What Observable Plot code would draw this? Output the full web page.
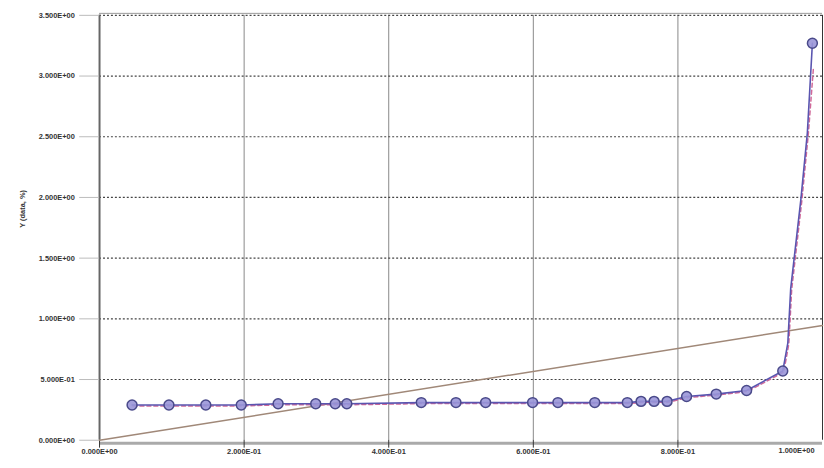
<!DOCTYPE html>
<html>
<head>
<meta charset="utf-8">
<script src="https://cdn.jsdelivr.net/npm/d3@7"></script>
<script src="https://cdn.jsdelivr.net/npm/@observablehq/plot@0.6"></script>
<style>
  html, body { margin: 0; padding: 0; background: #fff; overflow: hidden; width: 824px; height: 468px; }
  #chart svg { display: block; }
</style>
</head>
<body>
<div id="chart"></div>
<script>
// ---- data ----
const xValues = [0.045, 0.096, 0.147, 0.196, 0.247, 0.299, 0.326, 0.342, 0.445, 0.493, 0.534, 0.599, 0.634, 0.685, 0.730, 0.749, 0.767, 0.785, 0.812, 0.853, 0.895, 0.945, 0.952, 0.956, 0.970, 0.979, 0.986];
const blueValues = [0.29, 0.29, 0.29, 0.29, 0.30, 0.30, 0.30, 0.30, 0.31, 0.31, 0.31, 0.31, 0.31, 0.31, 0.31, 0.32, 0.32, 0.32, 0.36, 0.38, 0.41, 0.57, 0.80, 1.25, 1.98, 2.53, 3.27];
const redValues  = [0.29, 0.29, 0.29, 0.29, 0.30, 0.30, 0.30, 0.30, 0.31, 0.31, 0.31, 0.31, 0.31, 0.31, 0.31, 0.32, 0.32, 0.32, 0.36, 0.38, 0.41, 0.57, 0.80, 1.25, 1.98, 2.53, 3.07];
const marked = [true, true, true, true, true, true, true, true, true, true, true, true, true, true, true, true, true, true, true, true, true, true, false, false, false, false, true];
const refX = [0, 1.0];
const refY = [0, 0.945];
const xTicks = [0, 0.2, 0.4, 0.6, 0.8];
const xLastTick = [1.0];
const yTicks = [0, 0.5, 1.0, 1.5, 2.0, 2.5, 3.0, 3.5];
const yTitle = "Y (data, %)";

const blue = xValues.map((x, i) => ({x, y: blueValues[i], m: marked[i]}));
const red = xValues.map((x, i) => ({x, y: redValues[i]}));
const ref = refX.map((x, i) => ({x, y: refY[i]}));

const fmtE = d => {
  const s = d.toExponential(3).toUpperCase();
  return s.replace(/E([+-])(\d)$/, "E$10$2");
};

const chart = Plot.plot({
  width: 832,
  height: 468,
  marginLeft: 100,
  marginRight: 2,
  marginTop: 15,
  marginBottom: 24,
  style: {fontFamily: "Liberation Sans, Arial, sans-serif", fontSize: "7.5px", color: "#333", background: "#fff"},
  x: {domain: [0, 1.0]},
  y: {domain: [0, 3.5]},
  marks: [
    Plot.gridX(xTicks.slice(1), {stroke: "#888", strokeOpacity: 1, strokeWidth: 1}),
    Plot.gridY(yTicks.slice(1), {stroke: "#444", strokeOpacity: 1, strokeWidth: 1.2, strokeDasharray: "2,2"}),
    Plot.ruleY([3.5], {stroke: "#999", strokeWidth: 1, dy: -2}),
    Plot.ruleX([0], {stroke: "#666", strokeWidth: 2}),
    Plot.ruleY([0], {stroke: "#aaa", strokeWidth: 3, dy: 3}),
    Plot.axisX(xTicks, {tickSize: 8, tickPadding: 1, tickFormat: fmtE, fontWeight: "bold", fill: "#333", label: null}),
    Plot.tickX(xLastTick, {x: d => d, frameAnchor: "bottom", stroke: "#333", dy: 0}),
    Plot.text(xLastTick, {x: d => d, text: d => fmtE(d), frameAnchor: "bottom", dy: 13, dx: -8, textAnchor: "end", fontWeight: "bold", fill: "#333"}),
    Plot.axisY(yTicks, {tickSize: 20, tickPadding: 5, tickFormat: fmtE, fontWeight: "bold", fill: "#333", stroke: "#bbb", label: null}),
    Plot.text([yTitle], {frameAnchor: "left", dx: -78, rotate: -90, fontSize: 7.5, fontWeight: "bold", fill: "#333"}),
    Plot.line(ref, {x: "x", y: "y", stroke: "#a08878", strokeWidth: 1.5}),
    Plot.line(red, {x: "x", y: "y", stroke: "#d06a9a", strokeWidth: 1.5, strokeDasharray: "4,3", dy: 1, dx: 1}),
    Plot.line(blue, {x: "x", y: "y", stroke: "#5a55b0", strokeWidth: 1.6}),
    Plot.dot(blue.filter(d => d.m), {x: "x", y: "y", r: 5, stroke: "#4a4a8a", strokeWidth: 1.5, fill: "#9a96d8", fillOpacity: 0.9})
  ]
});
document.getElementById("chart").appendChild(chart);
</script>
</body>
</html>
